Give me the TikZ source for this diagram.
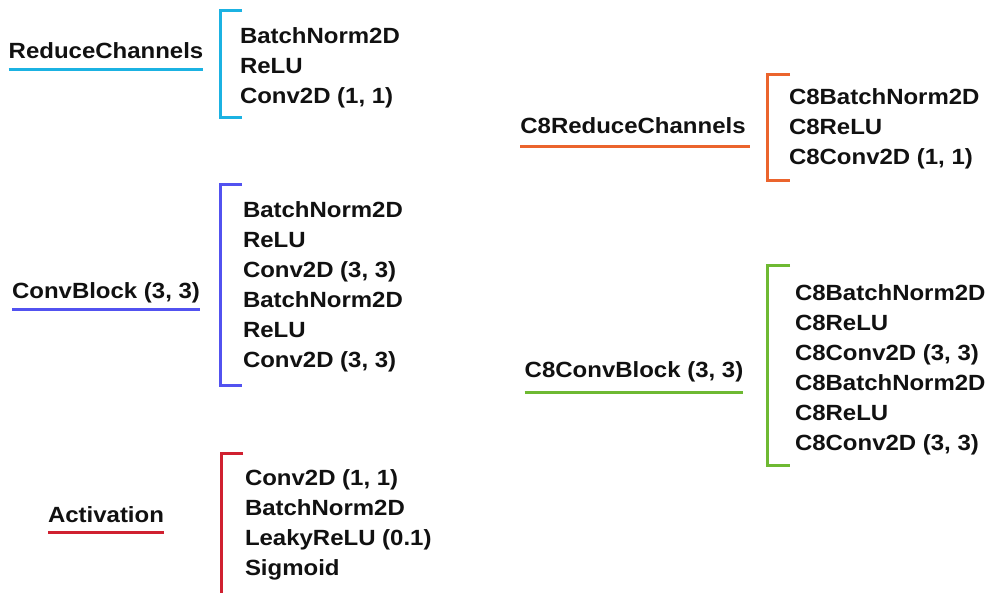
\documentclass[tikz,border=0pt]{standalone}
\usepackage{fontspec}
\newfontfamily\lblfont[FakeStretch=1.09]{Liberation Sans}
\definecolor{ccyan}{RGB}{27,178,226}
\definecolor{cblue}{RGB}{82,82,240}
\definecolor{cred}{RGB}{208,32,48}
\definecolor{corange}{RGB}{235,100,45}
\definecolor{cgreen}{RGB}{110,185,50}
\definecolor{ink}{RGB}{17,17,17}
\tikzset{
  txt/.style={inner sep=0pt, outer sep=0pt, text=ink, font=\lblfont\bfseries\fontsize{22}{30}\selectfont},
  item/.style={txt, anchor=base west},
  lbl/.style={txt, anchor=base},
  uline/.style={line width=3pt},
  brk/.style={line width=3pt}
}
\begin{document}
\begin{tikzpicture}[x=1pt,y=-1pt]
\useasboundingbox (0,0) rectangle (990,592);
\clip (0,0) rectangle (990,592);

% ReduceChannels
\node[lbl] (rc) at (106,58) {ReduceChannels};
\draw[uline,ccyan] ([yshift=-11pt]rc.base west) -- ([yshift=-11pt]rc.base east);
\draw[brk,ccyan] (242,10) -- (220,10) -- (220,117) -- (242,117);
\node[item] (rc1) at (240,43) {BatchNorm2D};
\node[item] (rc2) at (240,73) {ReLU};
\node[item] (rc3) at (240,103) {Conv2D (1, 1)};

% ConvBlock
\node[lbl] (cb) at (106,298) {ConvBlock (3, 3)};
\draw[uline,cblue] ([yshift=-11pt]cb.base west) -- ([yshift=-11pt]cb.base east);
\draw[brk,cblue] (242,184) -- (220,184) -- (220,385) -- (242,385);
\node[item] (cb1) at (243,217) {BatchNorm2D};
\node[item] (cb2) at (243,247) {ReLU};
\node[item] (cb3) at (243,277) {Conv2D (3, 3)};
\node[item] (cb4) at (243,307) {BatchNorm2D};
\node[item] (cb5) at (243,337) {ReLU};
\node[item] (cb6) at (243,367) {Conv2D (3, 3)};

% Activation
\node[lbl] (ac) at (106,522) {Activation};
\draw[uline,cred] ([yshift=-10pt]ac.base west) -- ([yshift=-10pt]ac.base east);
\draw[brk,cred] (243,453) -- (221,453) -- (221,600);
\node[item] (ac1) at (245,485) {Conv2D (1, 1)};
\node[item] (ac2) at (245,515) {BatchNorm2D};
\node[item] (ac3) at (245,545) {LeakyReLU (0.1)};
\node[item] (ac4) at (245,575) {Sigmoid};

% C8ReduceChannels
\node[lbl] (crc) at (633,133) {C8ReduceChannels};
\draw[uline,corange] ([yshift=-13pt,xshift=0pt]crc.base west) -- ([yshift=-13pt,xshift=4pt]crc.base east);
\draw[brk,corange] (790,74) -- (767,74) -- (767,180) -- (790,180);
\node[item] (crc1) at (789,104) {C8BatchNorm2D};
\node[item] (crc2) at (789,134) {C8ReLU};
\node[item] (crc3) at (789,164) {C8Conv2D (1, 1)};

% C8ConvBlock
\node[lbl] (ccb) at (634,377) {C8ConvBlock (3, 3)};
\draw[uline,cgreen] ([yshift=-15pt]ccb.base west) -- ([yshift=-15pt]ccb.base east);
\draw[brk,cgreen] (790,265) -- (767,265) -- (767,465) -- (790,465);
\node[item] (ccb1) at (795,300) {C8BatchNorm2D};
\node[item] (ccb2) at (795,330) {C8ReLU};
\node[item] (ccb3) at (795,360) {C8Conv2D (3, 3)};
\node[item] (ccb4) at (795,390) {C8BatchNorm2D};
\node[item] (ccb5) at (795,420) {C8ReLU};
\node[item] (ccb6) at (795,450) {C8Conv2D (3, 3)};
\end{tikzpicture}
\end{document}
